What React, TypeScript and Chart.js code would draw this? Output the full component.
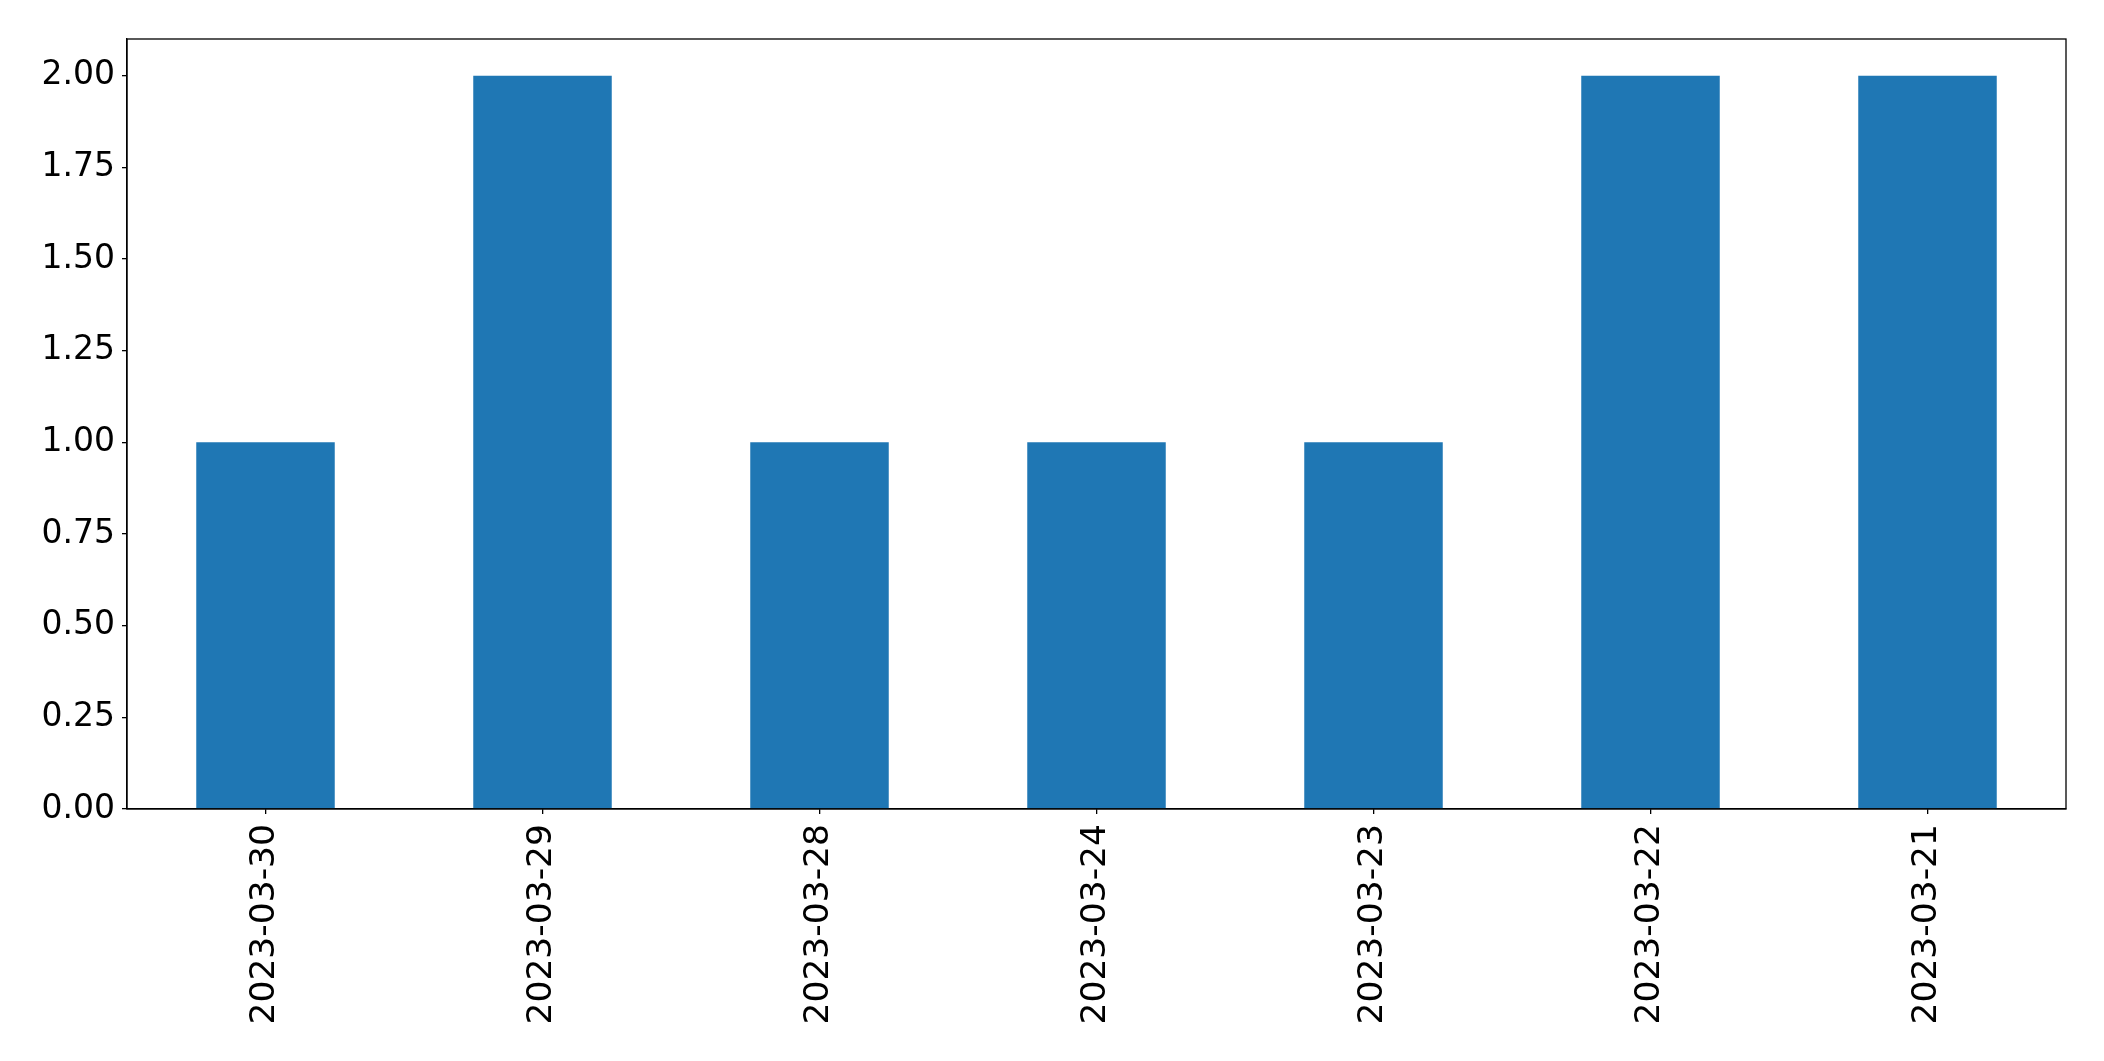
import React, { useEffect, useRef } from "react";
import { Chart, registerables } from "chart.js";

Chart.register(...registerables);

const categories = ["2023-03-30", "2023-03-29", "2023-03-28", "2023-03-24", "2023-03-23", "2023-03-22", "2023-03-21"];
const values = [1, 2, 1, 1, 1, 2, 2];
const yTicks = [0, 0.25, 0.5, 0.75, 1.0, 1.25, 1.5, 1.75, 2.0];

const FONT = "'DejaVu Sans', sans-serif";

const frame = {
  id: "frame",
  afterDraw(chart: any) {
    const { ctx, chartArea: a } = chart;
    ctx.save();
    ctx.strokeStyle = "#000";
    ctx.lineWidth = 1.3;
    ctx.strokeRect(a.left, a.top, a.right - a.left, a.bottom - a.top);
    ctx.restore();
  },
};

export default function App() {
  const ref = useRef<HTMLCanvasElement>(null);
  useEffect(() => {
    const chart = new Chart(ref.current!, {
      type: "bar",
      data: {
        labels: categories,
        datasets: [
          {
            data: values,
            backgroundColor: "#1f77b4",
            barPercentage: 0.5,
            categoryPercentage: 1,
          },
        ],
      },
      options: {
        animation: false,
        responsive: false,
        maintainAspectRatio: false,
        layout: { padding: { top: 39, right: 38, left: 0, bottom: 0 } },
        plugins: { legend: { display: false }, tooltip: { enabled: false } },
        scales: {
          x: {
            grid: { display: true, offset: false, drawOnChartArea: false, drawTicks: true, tickLength: 5, tickColor: "#000", lineWidth: 1.3 },
            border: { display: true, color: "#000", width: 1.3 },
            ticks: {
              color: "#000",
              font: { family: FONT, size: 34.5 },
              minRotation: 90,
              maxRotation: 90,
              padding: 10,
              autoSkip: false,
            },
            afterFit(scale: any) {
              scale.height = 252;
            },
          },
          y: {
            min: 0,
            max: 2.1,
            grid: { display: true, drawOnChartArea: false, drawTicks: true, tickLength: 5, tickColor: "#000", lineWidth: 1.3 },
            border: { display: true, color: "#000", width: 1.3 },
            ticks: {
              stepSize: 0.25,
              color: "#000",
              font: { family: FONT, size: 33 },
              padding: 7,
              callback: (v: any) => Number(v).toFixed(2),
            },
            afterBuildTicks(scale: any) {
              scale.ticks = yTicks.map((v) => ({ value: v }));
            },
            afterFit(scale: any) {
              scale.width = 127;
            },
          },
        },
      },
      plugins: [frame],
    });
    return () => chart.destroy();
  }, []);
  return (
    <div style={{ position: "absolute", left: 0, top: 0, width: 2104, height: 1061, background: "#fff" }}>
      <canvas ref={ref} width={2104} height={1061} style={{ width: 2104, height: 1061 }} />
    </div>
  );
}
